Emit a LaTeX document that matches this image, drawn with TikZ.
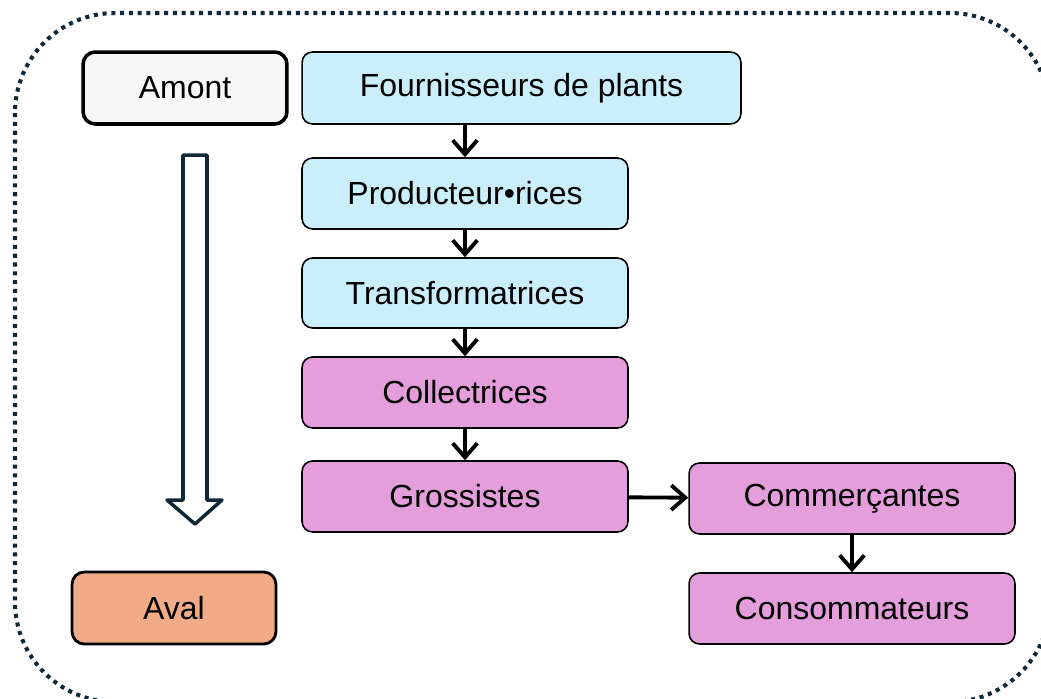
\documentclass[tikz,border=0pt]{standalone}
\usepackage{fontspec}
\setmainfont{Liberation Sans}
\usetikzlibrary{arrows.meta}
\definecolor{bleuclair}{HTML}{CBEEFB}
\definecolor{rose}{HTML}{E59EDC}
\definecolor{saumon}{HTML}{F1AB86}
\definecolor{grisclair}{HTML}{F7F7F7}
\definecolor{marine}{HTML}{0E2838}
\begin{document}
\begin{tikzpicture}[x=0.02cm, y=-0.02cm, line join=round, >={Straight Barb[length=8pt, width=14pt]},
		font=\fontsize{18.2}{22}\selectfont,
		maillon/.style={draw, line width=0.9pt, rounded corners=6pt, minimum width=6.52cm, minimum height=1.42cm, inner sep=0pt},
		bout/.style={draw, rounded corners=7pt, minimum width=4.08cm, minimum height=1.44cm, inner sep=0pt},
		fleche/.style={->, line width=2.2pt}
		]
		\useasboundingbox (0,0) rectangle (1041,698);
		\begin{scope}
			\clip (0,0) rectangle (1041,698);
			\draw[marine, line width=2.3pt, dash pattern=on 2.3pt off 2.7pt, rounded corners=57pt] (15,13) rectangle (1050,702);
		\end{scope}
		% amont / aval
		\node[bout, fill=grisclair, line width=2pt] (amont) at (185,88) {Amont};
		\node[bout, fill=saumon, line width=1.6pt] (aval) at (174,608) {Aval};
		\draw[marine, line width=2pt] (183,155)--(207,155)--(207,500)--(222,500)--(195,524)--(167,500)--(183,500)--cycle;
		% la filiere
		\node[maillon, fill=bleuclair, minimum width=8.78cm, minimum height=1.44cm] (fourn) at (521.5,88) {Fournisseurs de plants};
		\node[maillon, fill=bleuclair] (prod) at (465,193.5) {Producteur•rices};
		\node[maillon, fill=bleuclair, minimum height=1.4cm] (transf) at (465,293) {Transformatrices};
		\node[maillon, fill=rose] (collec) at (465,392.5) {Collectrices};
		\node[maillon, fill=rose] (gross) at (465,496.5) {Grossistes};
		\node[maillon, fill=rose] (comm) at (852,498.5) {Commerçantes};
		\node[maillon, fill=rose] (conso) at (852,608.5) {Consommateurs};
		\draw[fleche] (fourn.south -| prod.north)--(prod);
		\draw[fleche] (prod)--(transf);
		\draw[fleche] (transf)--(collec);
		\draw[fleche] (collec)--(gross);
		\draw[fleche] (gross)--(comm);
		\draw[fleche] (comm)--(conso);
\end{tikzpicture}
\end{document}
